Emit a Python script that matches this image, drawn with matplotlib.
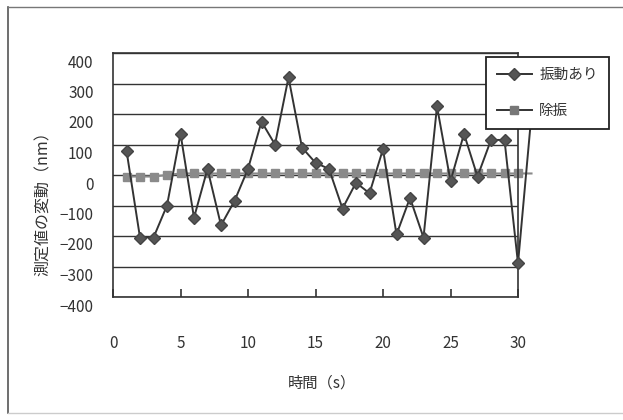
import matplotlib
matplotlib.use("Agg")
import matplotlib.pyplot as plt
import matplotlib.transforms as mtransforms
from matplotlib.lines import Line2D

plt.rcParams['font.family'] = ['Noto Sans CJK JP', 'DejaVu Sans']

# time (s); point 31 lies past the axis end, line drawn but no marker
seconds = list(range(1, 32))
with_vib = [80, -205, -205, -100, 135, -140, 20, -165, -85, 20,
            175, 100, 320, 90, 40, 20, -110, -25, -60, 85,
            -195, -75, -205, 225, -20, 135, -5, 115, 115, -290, 200]
isolated = [-5, -5, -5, 0, 5, 5, 5, 5, 5, 5,
            5, 5, 5, 5, 5, 5, 5, 5, 5, 5,
            5, 5, 5, 5, 5, 5, 5, 5, 5, 5, 5]
series_names = ['振動あり', '除振']
x_ticks = [0, 5, 10, 15, 20, 25, 30]
y_ticks = [-400, -300, -200, -100, 0, 100, 200, 300, 400]

W, H = 623, 420
fig = plt.figure(figsize=(W / 100, H / 100), dpi=100)
fig.patch.set_facecolor('white')

# chart area frame (left, top, bottom visible)
fig.add_artist(Line2D([8 / W, 8 / W], [1 - 7 / H, 1 - 413 / H], color='#555555', lw=1.2))
fig.add_artist(Line2D([8 / W, 1.0], [1 - 7 / H, 1 - 7 / H], color='#777777', lw=1.0))
fig.add_artist(Line2D([8 / W, 1.0], [1 - 413 / H, 1 - 413 / H], color='#cccccc', lw=1.0))

ax = fig.add_axes([113 / W, 1 - 297 / H, (518 - 113) / W, (297 - 53) / H])
ax.set_xlim(0, 30)
ax.set_ylim(-400, 400)

for y in y_ticks:
    ax.axhline(y, color='#333333', lw=1.0, zorder=1)

ax.plot(seconds, isolated, color='#8a8a8a', lw=1.5, marker='s', ms=6,
        mfc='#8a8a8a', mec='#8a8a8a', markevery=slice(0, 30),
        clip_on=False, zorder=2)
ax.plot(seconds, with_vib, color='#333333', lw=1.4, marker='D', ms=6.5,
        mfc='#555555', mec='#444444', markevery=slice(0, 30),
        clip_on=False, zorder=3)

for s in ax.spines.values():
    s.set_color('#333333')
    s.set_linewidth(1.2)

ax.set_xticks(x_ticks)
ax.set_yticks(y_ticks)
ax.tick_params(axis='x', direction='in', length=6, width=1.2, color='#333333',
               pad=27, labelsize=11, labelcolor='#333333')
ax.tick_params(axis='y', length=0, pad=14, labelsize=11, labelcolor='#333333')
shift = mtransforms.ScaledTranslation(0, -8 / 100, fig.dpi_scale_trans)
for lab in ax.get_yticklabels():
    lab.set_transform(lab.get_transform() + shift)

fig.text(43 / W, 1 - 200 / H, '測定値の変動（nm）', rotation=90, ha='center',
         va='center', fontsize=11.5, color='#333333')
fig.text(322 / W, 1 - 383 / H, '時間（s）', ha='center', va='center',
         fontsize=11, color='#333333')

handles = [
    Line2D([], [], color='#333333', lw=1.4, marker='D', ms=6.5,
           mfc='#555555', mec='#444444'),
    Line2D([], [], color='#333333', lw=1.4, marker='s', ms=6,
           mfc='#777777', mec='#777777'),
]
leg = fig.legend(handles, series_names, loc='upper left',
                 bbox_to_anchor=(486 / W, 1 - 57 / H), fontsize=10.5,
                 frameon=True, fancybox=False, framealpha=1,
                 edgecolor='#222222', borderpad=0.75, labelspacing=1.5,
                 handlelength=2.4, handletextpad=0.5, borderaxespad=0)
leg.get_frame().set_linewidth(1.3)
for t in leg.get_texts():
    t.set_color('#333333')
leg.set_zorder(10)

fig.savefig('out.png', dpi=100, facecolor='white')
